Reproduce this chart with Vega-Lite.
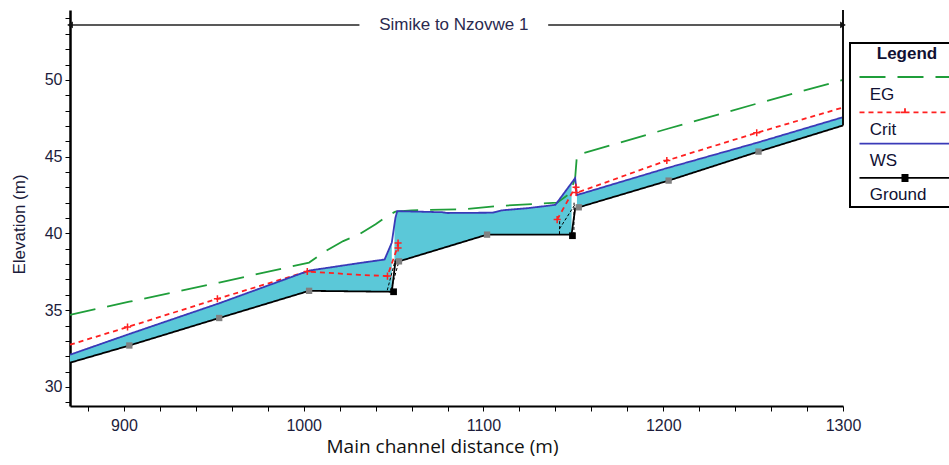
{
  "$schema": "https://vega.github.io/schema/vega-lite/v6.json",
  "width": 773,
  "height": 396,
  "autosize": {"type": "none"},
  "padding": {"left": 70, "top": 10, "right": 106, "bottom": 59},
  "background": "white",
  "config": {"view": {"stroke": null}, "font": "Liberation Sans", "legend": {"strokeWidth": 2}},
  "datasets": {
    "lines": [
      {"s": "EG", "g": "EG", "x": 870, "y": 34.7},
      {"s": "EG", "g": "EG", "x": 903, "y": 35.55},
      {"s": "EG", "g": "EG", "x": 953, "y": 36.8},
      {"s": "EG", "g": "EG", "x": 1003, "y": 38.1},
      {"s": "EG", "g": "EG", "x": 1013, "y": 38.9},
      {"s": "EG", "g": "EG", "x": 1022, "y": 39.5},
      {"s": "EG", "g": "EG", "x": 1031, "y": 39.95},
      {"s": "EG", "g": "EG", "x": 1040, "y": 40.6},
      {"s": "EG", "g": "EG", "x": 1046, "y": 41.1},
      {"s": "EG", "g": "EG", "x": 1051, "y": 41.42},
      {"s": "EG", "g": "EG", "x": 1060, "y": 41.5},
      {"s": "EG", "g": "EG", "x": 1090, "y": 41.58},
      {"s": "EG", "g": "EG", "x": 1110, "y": 41.8},
      {"s": "EG", "g": "EG", "x": 1141, "y": 42.0},
      {"s": "EG", "g": "EG", "x": 1148, "y": 42.6},
      {"s": "EG", "g": "EG", "x": 1151, "y": 43.6},
      {"s": "EG", "g": "EG", "x": 1152, "y": 45.1},
      {"s": "EG", "g": "EG", "x": 1202, "y": 46.8},
      {"s": "EG", "g": "EG", "x": 1252, "y": 48.45},
      {"s": "EG", "g": "EG", "x": 1300, "y": 50.0},
      {"s": "Crit", "g": "CritA", "x": 870, "y": 32.75},
      {"s": "Crit", "g": "CritA", "x": 902, "y": 33.9},
      {"s": "Crit", "g": "CritA", "x": 952, "y": 35.74},
      {"s": "Crit", "g": "CritA", "x": 1002, "y": 37.52},
      {"s": "Crit", "g": "CritA", "x": 1031, "y": 37.3},
      {"s": "Crit", "g": "CritA", "x": 1046.6, "y": 37.22},
      {"s": "Crit", "g": "CritA", "x": 1052, "y": 39.05},
      {"s": "Crit", "g": "CritA", "x": 1052.5, "y": 39.37},
      {"s": "Crit", "g": "CritB", "x": 1141, "y": 40.9},
      {"s": "Crit", "g": "CritB", "x": 1151, "y": 43.0},
      {"s": "Crit", "g": "CritB", "x": 1152, "y": 42.65},
      {"s": "Crit", "g": "CritB", "x": 1202, "y": 44.75},
      {"s": "Crit", "g": "CritB", "x": 1252, "y": 46.55},
      {"s": "Crit", "g": "CritB", "x": 1300, "y": 48.2},
      {"s": "WS", "g": "WS", "x": 870, "y": 32.1},
      {"s": "WS", "g": "WS", "x": 903, "y": 33.45},
      {"s": "WS", "g": "WS", "x": 953, "y": 35.45},
      {"s": "WS", "g": "WS", "x": 1003, "y": 37.58},
      {"s": "WS", "g": "WS", "x": 1031, "y": 38.07},
      {"s": "WS", "g": "WS", "x": 1045, "y": 38.3},
      {"s": "WS", "g": "WS", "x": 1049, "y": 39.4},
      {"s": "WS", "g": "WS", "x": 1051, "y": 41.0},
      {"s": "WS", "g": "WS", "x": 1052, "y": 41.45},
      {"s": "WS", "g": "WS", "x": 1077, "y": 41.38},
      {"s": "WS", "g": "WS", "x": 1080, "y": 41.33},
      {"s": "WS", "g": "WS", "x": 1105, "y": 41.35},
      {"s": "WS", "g": "WS", "x": 1110, "y": 41.5},
      {"s": "WS", "g": "WS", "x": 1125, "y": 41.65},
      {"s": "WS", "g": "WS", "x": 1140, "y": 41.86},
      {"s": "WS", "g": "WS", "x": 1151, "y": 43.6},
      {"s": "WS", "g": "WS", "x": 1152, "y": 42.5},
      {"s": "WS", "g": "WS", "x": 1202, "y": 44.25},
      {"s": "WS", "g": "WS", "x": 1252, "y": 45.9},
      {"s": "WS", "g": "WS", "x": 1300, "y": 47.57},
      {"s": "Ground", "g": "Ground", "x": 870, "y": 31.58},
      {"s": "Ground", "g": "Ground", "x": 903, "y": 32.7},
      {"s": "Ground", "g": "Ground", "x": 953, "y": 34.49},
      {"s": "Ground", "g": "Ground", "x": 1003, "y": 36.26},
      {"s": "Ground", "g": "Ground", "x": 1049, "y": 36.2},
      {"s": "Ground", "g": "Ground", "x": 1051, "y": 38.15},
      {"s": "Ground", "g": "Ground", "x": 1053, "y": 38.18},
      {"s": "Ground", "g": "Ground", "x": 1102, "y": 39.92},
      {"s": "Ground", "g": "Ground", "x": 1149, "y": 39.92},
      {"s": "Ground", "g": "Ground", "x": 1151, "y": 41.6},
      {"s": "Ground", "g": "Ground", "x": 1153, "y": 41.7},
      {"s": "Ground", "g": "Ground", "x": 1203, "y": 43.44},
      {"s": "Ground", "g": "Ground", "x": 1253, "y": 45.33},
      {"s": "Ground", "g": "Ground", "x": 1300, "y": 47.03}
    ],
    "fill": [
      {"seg": 1, "x": 870, "lo": 31.58, "hi": 32.1},
      {"seg": 1, "x": 903, "lo": 32.7, "hi": 33.45},
      {"seg": 1, "x": 953, "lo": 34.49, "hi": 35.45},
      {"seg": 1, "x": 1003, "lo": 36.26, "hi": 37.58},
      {"seg": 1, "x": 1031, "lo": 36.23, "hi": 38.07},
      {"seg": 1, "x": 1045, "lo": 36.2, "hi": 38.3},
      {"seg": 1, "x": 1049, "lo": 36.2, "hi": 39.4},
      {"seg": 2, "x": 1050.5, "lo": 38.1, "hi": 40.8},
      {"seg": 2, "x": 1052, "lo": 38.15, "hi": 41.45},
      {"seg": 2, "x": 1077, "lo": 39.0, "hi": 41.38},
      {"seg": 2, "x": 1080, "lo": 39.1, "hi": 41.33},
      {"seg": 2, "x": 1102, "lo": 39.92, "hi": 41.35},
      {"seg": 2, "x": 1110, "lo": 39.92, "hi": 41.5},
      {"seg": 2, "x": 1125, "lo": 39.92, "hi": 41.65},
      {"seg": 2, "x": 1140, "lo": 39.92, "hi": 41.86},
      {"seg": 2, "x": 1149, "lo": 39.92, "hi": 43.3},
      {"seg": 3, "x": 1152, "lo": 41.7, "hi": 42.5},
      {"seg": 3, "x": 1203, "lo": 43.44, "hi": 44.25},
      {"seg": 3, "x": 1253, "lo": 45.33, "hi": 45.9},
      {"seg": 3, "x": 1300, "lo": 47.03, "hi": 47.57}
    ],
    "struct": [
      {"g": "a", "x": 1046.5, "y": 36.3},
      {"g": "a", "x": 1051, "y": 38.3},
      {"g": "b", "x": 1048.5, "y": 36.3},
      {"g": "b", "x": 1053, "y": 38.2},
      {"g": "c", "x": 1142.3, "y": 40.3},
      {"g": "c", "x": 1151, "y": 41.9},
      {"g": "d", "x": 1142.3, "y": 39.95},
      {"g": "d", "x": 1142.4, "y": 40.9},
      {"g": "e", "x": 1150.3, "y": 39.9},
      {"g": "e", "x": 1150.4, "y": 42.0}
    ],
    "crit": [
      {"x": 902, "y": 33.9},
      {"x": 952, "y": 35.74},
      {"x": 1002, "y": 37.52},
      {"x": 1046.6, "y": 37.22},
      {"x": 1052.5, "y": 39.05},
      {"x": 1052.5, "y": 39.37},
      {"x": 1141, "y": 40.9},
      {"x": 1151.5, "y": 42.67},
      {"x": 1151.5, "y": 43.0},
      {"x": 1202, "y": 44.75},
      {"x": 1252, "y": 46.55}
    ],
    "grey": [
      {"x": 903, "y": 32.7},
      {"x": 953, "y": 34.49},
      {"x": 1003, "y": 36.26},
      {"x": 1053, "y": 38.18},
      {"x": 1102, "y": 39.92},
      {"x": 1153, "y": 41.7},
      {"x": 1203, "y": 43.44},
      {"x": 1253, "y": 45.33}
    ],
    "black": [
      {"x": 1050, "y": 36.2},
      {"x": 1149.5, "y": 39.85}
    ],
    "tline": [
      {"x": 870, "x2": 1031, "y": 53.58},
      {"x": 1136, "x2": 1300, "y": 53.58}
    ],
    "vline": [
      {"x": 1300, "y": 47.03, "y2": 54.55}
    ],
    "ttext": [
      {"x": 1083.5, "y": 53.58, "t": "Simike to Nzovwe 1"}
    ]
  },
  "layer": [
    {
      "data": {"name": "fill"},
      "mark": {"type": "area", "color": "#5bc8d8", "opacity": 1},
      "encoding": {
        "x": {
          "field": "x", "type": "quantitative",
          "scale": {"domain": [870, 1300], "nice": false, "zero": false},
          "axis": {
            "title": "Main channel distance (m)",
            "values": [880, 900, 920, 940, 960, 980, 1000, 1020, 1040, 1060, 1080, 1100, 1120, 1140, 1160, 1180, 1200, 1220, 1240, 1260, 1280, 1300],
            "tickCount": 100,
            "labelExpr": "datum.value % 100 === 0 ? datum.label : ''",
            "format": "d",
            "grid": false,
            "tickSize": 5, "tickColor": "black", "tickWidth": 1,
            "domainColor": "black", "domainWidth": 2,
            "labelFont": "Liberation Sans", "labelFontSize": 16, "labelColor": "#1c1c3c",
            "labelPadding": 6, "labelFlush": false, "labelOverlap": false,
            "titleFont": "Open Sans", "titleFontSize": 19, "titleFontWeight": "normal", "titleColor": "#111111",
            "titleX": 372, "titleY": 40, "titleBaseline": "middle", "titleAlign": "center"
          }
        },
        "y": {
          "field": "hi", "type": "quantitative",
          "scale": {"domain": [28.76, 54.55], "nice": false, "zero": false},
          "axis": {
            "title": "Elevation (m)",
            "values": [29, 30, 31, 32, 33, 34, 35, 36, 37, 38, 39, 40, 41, 42, 43, 44, 45, 46, 47, 48, 49, 50, 51, 52, 53, 54],
            "tickCount": 100,
            "labelExpr": "datum.value % 5 === 0 ? datum.label : ''",
            "format": "d",
            "grid": false,
            "tickSize": 5, "tickColor": "black", "tickWidth": 1,
            "domainColor": "black", "domainWidth": 2.5,
            "labelFont": "Liberation Sans", "labelFontSize": 16, "labelColor": "#1c1c3c",
            "labelPadding": 3, "labelOverlap": false, "labelFlush": false,
            "titleFont": "Liberation Sans", "titleFontSize": 17, "titleFontWeight": "normal", "titleColor": "#1c1c3c",
            "titleX": -51, "titleY": 214, "titleAngle": -90, "titleBaseline": "middle", "titleAlign": "center"
          }
        },
        "y2": {"field": "lo"},
        "detail": {"field": "seg", "type": "nominal"}
      }
    },
    {
      "data": {"name": "lines"},
      "mark": {"type": "line", "strokeWidth": 1.8},
      "encoding": {
        "x": {"field": "x", "type": "quantitative", "scale": {"domain": [870, 1300], "nice": false, "zero": false}},
        "y": {"field": "y", "type": "quantitative", "scale": {"domain": [28.76, 54.55], "nice": false, "zero": false}},
        "color": {
          "field": "s", "type": "nominal", "title": "Legend",
          "scale": {"domain": ["EG", "Crit", "WS", "Ground"], "range": ["#1f9e3a", "#ff2020", "#3a3ab8", "#000000"]},
          "legend": {
            "orient": "none", "legendX": 780, "legendY": 33,
            "title": "Legend", "titleFont": "Liberation Sans", "titleFontSize": 17, "titleFontWeight": "bold",
            "titleColor": "#111133", "titleAnchor": "middle", "titlePadding": 13,
            "padding": 3, "strokeColor": "black", "fillColor": "white",
            "labelFont": "Liberation Sans", "labelFontSize": 17, "labelColor": "#111133",
            "labelBaseline": "middle", "labelOffset": -57,
            "symbolSize": 1225, "symbolStrokeWidth": 1.8, "symbolOffset": 36.75,
            "rowPadding": 1.3
          }
        },
        "strokeDash": {
          "field": "s", "type": "nominal", "title": "Legend",
          "scale": {"domain": ["EG", "Crit", "WS", "Ground"], "range": [[26, 12], [5, 4], [1, 0], [1, 0]]}
        },
        "detail": {"field": "g", "type": "nominal"}
      }
    },
    {
      "data": {"name": "struct"},
      "mark": {"type": "line", "color": "black", "strokeWidth": 1, "strokeDash": [3, 2]},
      "encoding": {
        "x": {"field": "x", "type": "quantitative", "scale": {"domain": [870, 1300], "nice": false, "zero": false}},
        "y": {"field": "y", "type": "quantitative", "scale": {"domain": [28.76, 54.55], "nice": false, "zero": false}},
        "detail": {"field": "g", "type": "nominal"}
      }
    },
    {
      "data": {"name": "crit"},
      "mark": {"type": "point", "shape": "M-1,0H1M0,-1V1", "filled": false, "color": "#ff2020", "strokeWidth": 1.5, "size": 50, "opacity": 1},
      "encoding": {
        "x": {"field": "x", "type": "quantitative", "scale": {"domain": [870, 1300], "nice": false, "zero": false}},
        "y": {"field": "y", "type": "quantitative", "scale": {"domain": [28.76, 54.55], "nice": false, "zero": false}}
      }
    },
    {
      "data": {"name": "grey"},
      "mark": {"type": "point", "shape": "square", "filled": true, "color": "#808080", "size": 40, "opacity": 1},
      "encoding": {
        "x": {"field": "x", "type": "quantitative", "scale": {"domain": [870, 1300], "nice": false, "zero": false}},
        "y": {"field": "y", "type": "quantitative", "scale": {"domain": [28.76, 54.55], "nice": false, "zero": false}}
      }
    },
    {
      "data": {"name": "black"},
      "mark": {"type": "point", "shape": "square", "filled": true, "color": "#000000", "size": 45, "opacity": 1},
      "encoding": {
        "x": {"field": "x", "type": "quantitative", "scale": {"domain": [870, 1300], "nice": false, "zero": false}},
        "y": {"field": "y", "type": "quantitative", "scale": {"domain": [28.76, 54.55], "nice": false, "zero": false}}
      }
    },
    {
      "data": {"name": "tline"},
      "mark": {"type": "rule", "color": "#222222", "strokeWidth": 1.5},
      "encoding": {
        "x": {"field": "x", "type": "quantitative", "scale": {"domain": [870, 1300], "nice": false, "zero": false}},
        "x2": {"field": "x2"},
        "y": {"field": "y", "type": "quantitative", "scale": {"domain": [28.76, 54.55], "nice": false, "zero": false}}
      }
    },
    {
      "data": {"name": "vline"},
      "mark": {"type": "rule", "color": "#111111", "strokeWidth": 2},
      "encoding": {
        "x": {"field": "x", "type": "quantitative", "scale": {"domain": [870, 1300], "nice": false, "zero": false}},
        "y": {"field": "y", "type": "quantitative", "scale": {"domain": [28.76, 54.55], "nice": false, "zero": false}},
        "y2": {"field": "y2"}
      }
    },
    {
      "data": {"name": "tline"},
      "mark": {"type": "point", "shape": "triangle-left", "filled": true, "color": "#111111", "size": 45, "opacity": 1, "dx": 5},
      "encoding": {
        "x": {"field": "x", "type": "quantitative", "scale": {"domain": [870, 1300], "nice": false, "zero": false}},
        "y": {"field": "y", "type": "quantitative", "scale": {"domain": [28.76, 54.55], "nice": false, "zero": false}}
      },
      "transform": [{"filter": "datum.x < 1000"}]
    },
    {
      "data": {"name": "tline"},
      "mark": {"type": "point", "shape": "triangle-right", "filled": true, "color": "#111111", "size": 45, "opacity": 1, "dx": -5},
      "encoding": {
        "x": {"field": "x2", "type": "quantitative", "scale": {"domain": [870, 1300], "nice": false, "zero": false}},
        "y": {"field": "y", "type": "quantitative", "scale": {"domain": [28.76, 54.55], "nice": false, "zero": false}}
      },
      "transform": [{"filter": "datum.x2 > 1200"}]
    },
    {
      "data": {"name": "ttext"},
      "mark": {"type": "text", "font": "Liberation Sans", "fontSize": 17, "color": "#2a2a50", "baseline": "middle", "align": "center"},
      "encoding": {
        "x": {"field": "x", "type": "quantitative", "scale": {"domain": [870, 1300], "nice": false, "zero": false}},
        "y": {"field": "y", "type": "quantitative", "scale": {"domain": [28.76, 54.55], "nice": false, "zero": false}},
        "text": {"field": "t", "type": "nominal"}
      }
    },
    {
      "data": {"name": "lines"},
      "transform": [{"filter": "false"}],
      "mark": {"type": "point", "filled": false, "opacity": 1},
      "encoding": {
        "x": {"field": "x", "type": "quantitative", "scale": {"domain": [870, 1300], "nice": false, "zero": false}},
        "y": {"field": "y", "type": "quantitative", "scale": {"domain": [28.76, 54.55], "nice": false, "zero": false}},
        "color": {"field": "s", "type": "nominal", "title": "Legend", "scale": {"domain": ["EG", "Crit", "WS", "Ground"], "range": ["#1f9e3a", "#ff2020", "#3a3ab8", "#000000"]}},
        "shape": {
          "field": "s", "type": "nominal", "title": "Legend",
          "scale": {
            "domain": ["EG", "Crit", "WS", "Ground"],
            "range": [
              "M-2.786,-1H2.786",
              "M-2.786,-1H2.786M-0.415,-1H0.043M-0.186,-1.229V-0.771",
              "M-2.786,-1H2.786",
              "M-2.786,-1H2.786M-0.386,-1.166H0.014M-0.386,-1.097H0.014M-0.386,-1.029H0.014M-0.386,-0.96H0.014M-0.386,-0.891H0.014M-0.386,-0.823H0.014"
            ]
          }
        }
      }
    }
  ]
}
